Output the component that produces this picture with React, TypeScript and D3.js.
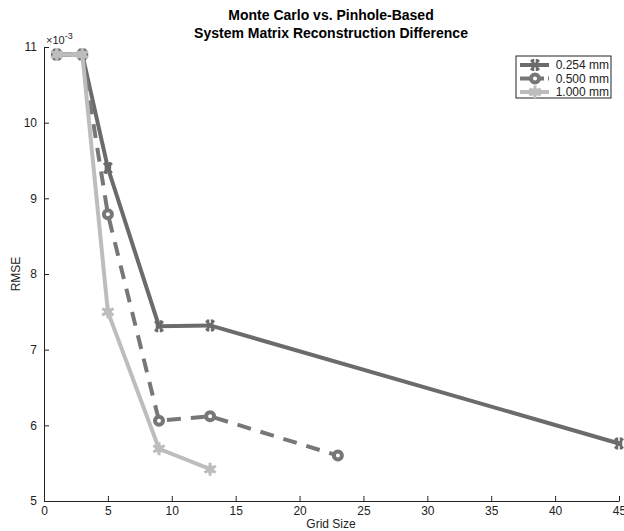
import React, { useRef, useEffect } from 'react';
import * as d3 from 'd3';

// grid sizes and RMSE (x1e-3) per pinhole size
const grid254 = [1, 3, 5, 9, 13, 45];
const rmse254 = [10.9, 10.9, 9.4, 7.31, 7.32, 5.76];
const grid500 = [1, 3, 5, 9, 13, 23];
const rmse500 = [10.9, 10.9, 8.79, 6.06, 6.12, 5.6];
const grid1000 = [1, 3, 5, 9, 13];
const rmse1000 = [10.9, 10.9, 7.5, 5.69, 5.42];

const xTicks = [0, 5, 10, 15, 20, 25, 30, 35, 40, 45];
const yTicks = [5, 6, 7, 8, 9, 10, 11];

const seriesNames = ['0.254 mm', '0.500 mm', '1.000 mm'];

const App = () => {
  const svgRef = useRef();

  useEffect(() => {
    const svg = d3.select(svgRef.current);
    svg.selectAll('*').remove();

    const font = 'Liberation Sans, Arial, sans-serif';

    const xScale = d3.scaleLinear().domain([0, 45]).range([44, 619]);
    const yScale = d3.scaleLinear().domain([5, 11]).range([501, 47]);

    const series = [
      { name: seriesNames[0], xs: grid254, ys: rmse254, color: '#6b6b6b', dash: null, marker: 'x' },
      { name: seriesNames[1], xs: grid500, ys: rmse500, color: '#777777', dash: '14,10', marker: 'o' },
      { name: seriesNames[2], xs: grid1000, ys: rmse1000, color: '#bdbdbd', dash: null, marker: '*' },
    ];

    // title
    const title = svg.append('text')
      .attr('x', 331)
      .attr('font-family', font)
      .attr('font-size', 14)
      .attr('font-weight', 'bold')
      .attr('text-anchor', 'middle');
    title.append('tspan').attr('x', 331).attr('y', 20).text('Monte Carlo vs. Pinhole-Based');
    title.append('tspan').attr('x', 331).attr('y', 38).text('System Matrix Reconstruction Difference');

    // axes
    const xAxis = svg.append('g')
      .attr('transform', 'translate(0, 501)')
      .call(d3.axisBottom(xScale).tickValues(xTicks).tickFormat(d3.format('d'))
        .tickSizeInner(-5).tickSizeOuter(0).tickPadding(5));
    const yAxis = svg.append('g')
      .attr('transform', 'translate(44, 0)')
      .call(d3.axisLeft(yScale).tickValues(yTicks).tickFormat(d3.format('d'))
        .tickSizeInner(-5).tickSizeOuter(0).tickPadding(7));
    [xAxis, yAxis].forEach(a => {
      a.selectAll('text').attr('font-family', font).attr('font-size', 12).attr('fill', '#222');
      a.selectAll('line, path').attr('stroke', '#222');
    });

    // exponent label
    const ex = svg.append('text')
      .attr('x', 46)
      .attr('y', 44)
      .attr('font-family', font)
      .attr('font-size', 11)
      .attr('fill', '#222');
    ex.append('tspan').text('\u00d710');
    ex.append('tspan').attr('dy', -5).attr('font-size', 9).text('-3');

    // axis labels
    svg.append('text')
      .attr('x', 331)
      .attr('y', 528)
      .attr('text-anchor', 'middle')
      .attr('font-family', font)
      .attr('font-size', 12)
      .attr('fill', '#222')
      .text('Grid Size');
    svg.append('text')
      .attr('transform', 'translate(20, 274) rotate(-90)')
      .attr('text-anchor', 'middle')
      .attr('font-family', font)
      .attr('font-size', 12)
      .attr('fill', '#222')
      .text('RMSE');

    const drawMarker = (g, kind, cx, cy, color) => {
      const m = g.append('g').attr('transform', `translate(${cx},${cy})`);
      if (kind === 'x') {
        m.append('path')
          .attr('d', 'M-4,-5L4,5M4,-5L-4,5M-2,-6L-2,6M2,-6L2,6')
          .attr('stroke', color).attr('stroke-width', 2.5).attr('fill', 'none');
      } else if (kind === 'o') {
        m.append('circle').attr('r', 4)
          .attr('stroke', color).attr('stroke-width', 4).attr('fill', 'white');
      } else {
        m.append('path')
          .attr('d', d3.symbol().type(d3.symbolAsterisk).size(120)())
          .attr('stroke', color).attr('stroke-width', 3).attr('fill', 'none');
        m.append('circle').attr('r', 4).attr('fill', color);
      }
    };

    // lines and markers
    series.forEach(s => {
      const pts = s.xs.map((x, i) => [x, s.ys[i]]);
      const line = d3.line().x(d => xScale(d[0])).y(d => yScale(d[1]));
      svg.append('path')
        .attr('d', line(pts))
        .attr('fill', 'none')
        .attr('stroke', s.color)
        .attr('stroke-width', 4)
        .attr('stroke-dasharray', s.dash);
      const mg = svg.append('g');
      pts.forEach(d => drawMarker(mg, s.marker, xScale(d[0]), yScale(d[1]), s.color));
    });

    // legend
    const lg = svg.append('g');
    lg.append('rect')
      .attr('x', 516).attr('y', 56).attr('width', 95).attr('height', 42)
      .attr('fill', 'white').attr('stroke', '#222').attr('stroke-width', 1);
    series.forEach((s, i) => {
      const y = 65 + i * 13.5;
      lg.append('line')
        .attr('x1', 520).attr('x2', 549).attr('y1', y).attr('y2', y)
        .attr('stroke', s.color).attr('stroke-width', 4)
        .attr('stroke-dasharray', s.dash ? '10,4' : null);
      drawMarker(lg, s.marker, 535, y, s.color);
      lg.append('text')
        .attr('x', 609).attr('y', y + 4)
        .attr('text-anchor', 'end')
        .attr('font-family', font)
        .attr('font-size', 12)
        .attr('fill', '#222')
        .text(s.name);
    });
  }, []);

  return (
    <svg width={624} height={531} ref={svgRef} style={{ position: 'absolute', left: 0, top: 0 }}>
    </svg>
  );
};

export default App;
